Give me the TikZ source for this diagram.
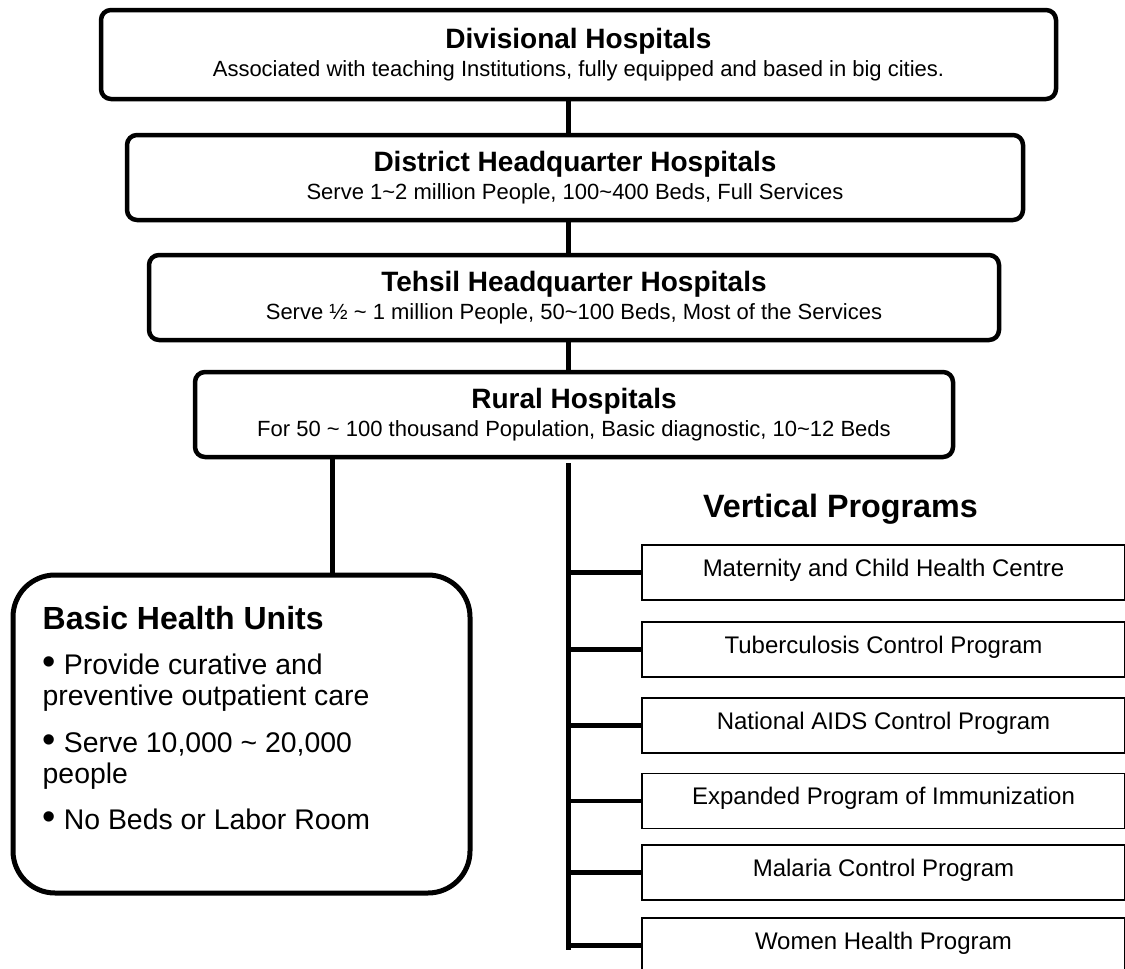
\documentclass[tikz,border=0pt]{standalone}
\usepackage{fontspec}
\setmainfont{Liberation Sans}
\usetikzlibrary{positioning}
\newcommand{\tildech}{\textasciitilde}
\newcommand{\hosptitle}[1]{{\fontsize{28}{28}\selectfont\bfseries #1}}
\newcommand{\bhubullet}{{\fontsize{38}{31}\selectfont\textbullet}~}

\begin{document}
\begin{tikzpicture}[x=1pt, y=-1pt,
  hosp/.style={draw, line width=4.5pt, rounded corners=10pt, align=center, inner sep=0pt, font=\fontsize{22}{28}\selectfont},
  bhubox/.style={draw, line width=5pt, rounded corners=42pt, inner sep=0pt},
  progbox/.style={draw, line width=1.6pt, minimum width=483pt, minimum height=55pt, inner sep=0pt, text height=17pt, text depth=10pt, font=\fontsize{24}{28}\selectfont},
  connector/.style={line width=5pt},
  branchtick/.style={line width=4.5pt}]
  \path[use as bounding box, fill=white] (0,0) rectangle (1125,969);

  % hospital levels, top to bottom
  \node[hosp, minimum width=955pt, minimum height=89pt] (div) at (578.5,54.5)
    {\hosptitle{Divisional Hospitals}\\Associated with teaching Institutions, fully equipped and based in big cities.};
  \node[hosp, minimum width=896pt, minimum height=85pt] (dist) at (575,177.5)
    {\hosptitle{District Headquarter Hospitals}\\Serve 1\tildech 2 million People, 100\tildech 400 Beds, Full Services};
  \node[hosp, minimum width=850pt, minimum height=85pt] (tehsil) at (574,297.5)
    {\hosptitle{Tehsil Headquarter Hospitals}\\Serve ½ \tildech{} 1 million People, 50\tildech 100 Beds, Most of the Services};
  \node[hosp, minimum width=758pt, minimum height=85pt] (rural) at (574,414.5)
    {\hosptitle{Rural Hospitals}\\For 50 \tildech{} 100 thousand Population, Basic diagnostic, 10\tildech 12 Beds};

  \coordinate (spine) at (568,0);
  \draw[connector] (div.south -| spine) -- (dist.north -| spine);
  \draw[connector] (dist.south -| spine) -- (tehsil.north -| spine);
  \draw[connector] (tehsil.south -| spine) -- (rural.north -| spine);

  % basic health units (left branch)
  \node[bhubox, minimum width=457pt, minimum height=318pt] (bhu) at (241.5,734) {};
  \node[below right=34pt and 32pt of bhu.north west, inner sep=0pt, align=left, font=\fontsize{28.4}{31}\selectfont] (bhuText)
    {{\fontsize{32}{32}\selectfont\bfseries Basic Health Units}\\[14pt]
     \bhubullet Provide curative and\\
     preventive outpatient care\\[16pt]
     \bhubullet Serve 10,000 \tildech{} 20,000\\
     people\\[15pt]
     \bhubullet No Beds or Labor Room};
  \coordinate (bhuLink) at (332,0);
  \draw[connector] (rural.south -| bhuLink) -- (bhu.north -| bhuLink);

  % vertical programs (right branch)
  \coordinate (stemTop) at (568,463);
  \coordinate (stemEnd) at (568,950);
  \draw[connector] (stemTop) -- (stemEnd);
  \node[anchor=base west, inner sep=0pt, font=\fontsize{32.3}{34}\selectfont\bfseries] (vpTitle) at (703,517) {Vertical Programs};
  \foreach \prog/\py [count=\i] in {Maternity and Child Health Centre/572.5, Tuberculosis Control Program/649.5,
      National AIDS Control Program/725.5, Expanded Program of Immunization/801,
      Malaria Control Program/872.5, Women Health Program/945.5}{
    \node[progbox] (prog\i) at (883.5,\py) {\prog};
    \draw[branchtick] (prog\i.west -| spine) -- (prog\i.west);
  }
\end{tikzpicture}
\end{document}
